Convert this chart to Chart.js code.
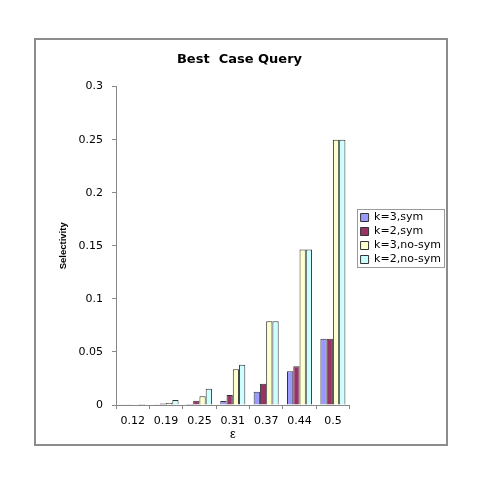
<!DOCTYPE html>
<html>
<head>
<meta charset="utf-8">
<script src="https://cdn.jsdelivr.net/npm/chart.js@4.4.0/dist/chart.umd.min.js"></script>
<style>
  html, body { margin: 0; padding: 0; background: #fff; }
  #wrap { width: 485px; height: 485px; }
</style>
</head>
<body>
<div id="wrap"><canvas id="mybar"></canvas></div>
<script>
// values
const epsilons = ["0.12", "0.19", "0.25", "0.31", "0.37", "0.44", "0.5"];
const k3Sym   = [0.0002, 0.0003, 0.001, 0.0038, 0.0125, 0.0317, 0.0625];
const k2Sym   = [0.0003, 0.0013, 0.004, 0.0094, 0.020, 0.0364, 0.0625];
const k3NoSym = [0.0005, 0.002, 0.0082, 0.0336, 0.079, 0.1465, 0.25];
const k2NoSym = [0.001, 0.0047, 0.0153, 0.038, 0.079, 0.1465, 0.25];
const yTicks  = [0, 0.05, 0.1, 0.15, 0.2, 0.25, 0.3];

const FONT = 'DejaVu Sans, Liberation Sans, Arial';

// outer frame + box round the legend, legend nudged right / up
const framePlugin = {
  id: 'frame',
  afterLayout(chart) {
    const lg = chart.legend;
    lg.left += 8; lg.right += 8;
    lg.top -= 4; lg.bottom -= 4;
  },
  afterDraw(chart) {
    const c = chart.ctx;
    c.save();
    c.strokeStyle = '#8c8c8c';
    c.lineWidth = 2;
    c.strokeRect(35, 39, 412, 406);
    const hb = chart.legend.legendHitBoxes;
    if (hb && hb.length) {
      let x0 = Infinity, y0 = Infinity, x1 = -Infinity, y1 = -Infinity;
      hb.forEach(b => {
        x0 = Math.min(x0, b.left); y0 = Math.min(y0, b.top);
        x1 = Math.max(x1, b.left + b.width); y1 = Math.max(y1, b.top + b.height);
      });
      c.lineWidth = 1;
      c.strokeStyle = '#999';
      c.strokeRect(Math.round(x0) - 3.5, Math.round(y0) - 2.5, Math.round(x1 - x0) + 7, Math.round(y1 - y0) + 5);
    }
    c.restore();
  }
};

var ctx = document.getElementById("mybar").getContext("2d");
var myChart = new Chart(ctx, {
  type: 'bar',
  data: {
    labels: epsilons,
    datasets: [
      { label: 'k=3,sym',    data: k3Sym,   backgroundColor: '#9999ff', borderColor: '#333', borderWidth: 1 },
      { label: 'k=2,sym',    data: k2Sym,   backgroundColor: '#993366', borderColor: '#333', borderWidth: 1 },
      { label: 'k=3,no-sym', data: k3NoSym, backgroundColor: '#ffffcc', borderColor: '#333', borderWidth: 1 },
      { label: 'k=2,no-sym', data: k2NoSym, backgroundColor: '#ccffff', borderColor: '#333', borderWidth: 1 }
    ]
  },
  options: {
    responsive: true,
    maintainAspectRatio: false,
    animation: false,
    categoryPercentage: 0.75,
    barPercentage: 1.0,
    layout: { padding: { top: 40, left: 36, right: 42, bottom: 40 } },
    plugins: {
      title: {
        display: true,
        text: 'Best  Case Query',
        color: '#000',
        font: { family: FONT, size: 13, weight: 'bold' },
        padding: { top: 12, bottom: 19 }
      },
      legend: {
        position: 'right',
        labels: {
          boxWidth: 8,
          boxHeight: 8,
          padding: 3,
          color: '#000',
          font: { family: FONT, size: 11 }
        }
      },
      tooltip: { enabled: false }
    },
    scales: {
      x: {
        grid: { display: true, drawOnChartArea: false, drawTicks: true, tickLength: 4, color: '#888' },
        border: { color: '#888' },
        ticks: { color: '#000', padding: 6, font: { family: FONT, size: 11 }, maxRotation: 0 },
        title: { display: true, text: 'ε', color: '#000', font: { family: 'Liberation Sans, Arial', size: 13 }, padding: { top: 0, bottom: 3 } },
        afterFit(scale) { scale.height = 40; }
      },
      y: {
        min: 0,
        max: 0.3,
        afterBuildTicks(scale) { scale.ticks = yTicks.map(v => ({ value: v })); },
        grid: { display: true, drawOnChartArea: false, drawTicks: true, tickLength: 4, color: '#888' },
        border: { color: '#888' },
        ticks: {
          color: '#000',
          padding: 9,
          font: { family: FONT, size: 11 },
          callback: v => String(+v.toFixed(2))
        },
        title: { display: true, text: 'Selectivity', color: '#000', font: { family: 'Liberation Sans, Arial', size: 9.5, weight: 'bold' }, padding: { top: 22, bottom: 0 } },
        afterFit(scale) { scale.width = 80; }
      }
    }
  },
  plugins: [framePlugin]
});
</script>
</body>
</html>
